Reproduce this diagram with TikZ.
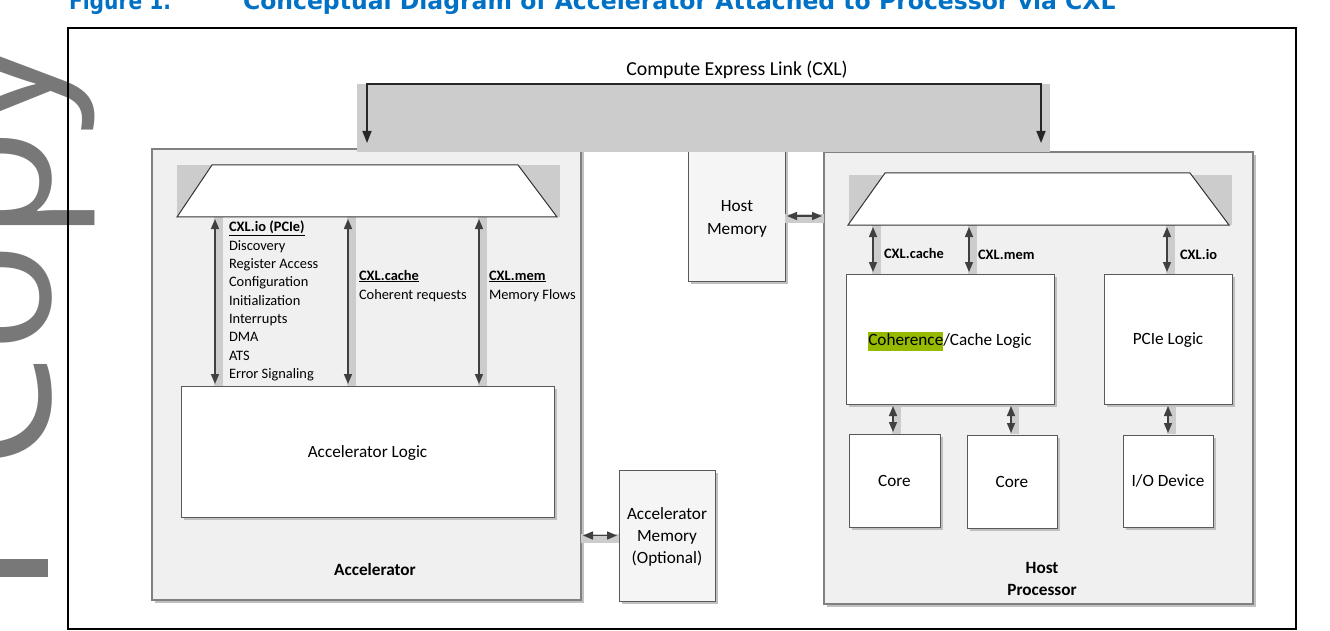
\documentclass[tikz,border=0pt]{standalone}
\usepackage{fontspec}
\setmainfont{Carlito}
\newfontfamily\wmfamily{Open Sans}
\newfontfamily\titlefamily{DejaVu Sans}
\usetikzlibrary{arrows.meta,shadows,calc}

\definecolor{cxlblue}{RGB}{0,113,197}
\definecolor{boxgray}{RGB}{240,240,240}
\definecolor{bordergray}{RGB}{128,128,128}
\definecolor{bandgray}{RGB}{204,204,204}
\definecolor{arrowgray}{RGB}{64,64,64}
\definecolor{hlgreen}{RGB}{150,186,0}
\definecolor{wmgray}{RGB}{120,120,120}
\definecolor{shadowgray}{RGB}{192,192,192}

\newcommand\mainfs{\fontsize{17.2}{22}\selectfont}
\newcommand\smallfs{\fontsize{14.4}{18.3}\selectfont}
\newcommand\labelfs{\fontsize{19.8}{24}\selectfont}
\newcommand\titlefs{\fontsize{23.5}{28}\selectfont\titlefamily\bfseries}
\newcommand\wmfs{\fontsize{185}{200}\selectfont\wmfamily}

\begin{document}
\begin{tikzpicture}[x=1pt,y=-1pt,
  every node/.style={inner sep=0pt,outer sep=0pt},
  outerbox/.style={draw=bordergray,line width=1.2pt,fill=boxgray,anchor=north west,
    drop shadow={shadow xshift=3pt,shadow yshift=-3pt,fill=shadowgray,opacity=1}},
  whitebox/.style={draw=black!65,line width=1pt,fill=white,anchor=north west,font=\mainfs,align=center,
    text depth=0pt,
    drop shadow={shadow xshift=3pt,shadow yshift=-3pt,fill=shadowgray,opacity=1}},
  membox/.style={whitebox,fill=black!4},
  trapbg/.style={fill=bandgray,anchor=north west},
  trapline/.style={draw=black!80,line width=1pt,fill=white},
  bandv/.style={draw=bandgray,line width=9pt,transform canvas={xshift=3.5pt}},
  bandh/.style={draw=bandgray,line width=9pt,transform canvas={yshift=-2.5pt}},
  biarrow/.style={draw=arrowgray,line width=1.5pt,shorten <=2pt,shorten >=2pt,
    {Triangle[length=10pt,width=8pt]}-{Triangle[length=10pt,width=8pt]}},
  bracket/.style={draw=black!85,line width=1.5pt,
    {Triangle[length=12pt,width=9pt]}-{Triangle[length=12pt,width=9pt]}},
  lbl/.style={font=\smallfs,anchor=base west},
  blbl/.style={font=\smallfs\bfseries,anchor=base west},
  bigtxt/.style={font=\mainfs,align=center,text depth=0pt},
  bigbold/.style={font=\mainfs\bfseries,align=center,text depth=0pt}
]
\useasboundingbox (0,0) rectangle (1330,631);
\clip (0,0) rectangle (1330,631);

% watermark
\node[rotate=90,anchor=base west,font=\wmfs,text=wmgray] (wm) at (50,470) {Copy};
\fill[wmgray] (0,559) rectangle (48,577);

% title
\node[font=\titlefs,text=cxlblue,anchor=base west] (figno) at (69,10) {\scalebox{0.86}[1]{Figure 1.}};
\node[font=\titlefs,text=cxlblue,anchor=base west] (figtitle) at (243,10) {Conceptual Diagram of Accelerator Attached to Processor via CXL};

% frame
\node[draw=black,line width=2pt,anchor=north west,minimum width=1228,minimum height=601] (frame) at (68,28) {};

% outer boxes
\node[outerbox,minimum width=429,minimum height=451] (accel) at (152,149) {};
\node[outerbox,minimum width=429,minimum height=452] (host) at (824,152) {};

% trapezoid backgrounds
\node[trapbg,minimum width=383,minimum height=52] (trapLbg) at (177,165) {};
\node[trapbg,minimum width=383,minimum height=50] (trapRbg) at (849,175) {};

% x positions of connectors
\coordinate (xio) at (215,0);
\coordinate (xca) at (348,0);
\coordinate (xme) at (479,0);
\coordinate (hca) at (873,0);
\coordinate (hme) at (969,0);
\coordinate (hio) at (1167,0);
\coordinate (c1x) at (893,0);
\coordinate (c2x) at (1011,0);
\coordinate (iox) at (1168,0);
\coordinate (hmy) at (0,216);

% shadow bands of the connectors
\coordinate (alnw) at (181,386);
\draw[bandv] (trapLbg.south -| xio) -- (xio |- alnw);
\draw[bandv] (trapLbg.south -| xca) -- (xca |- alnw);
\draw[bandv] (trapLbg.south -| xme) -- (xme |- alnw);
\coordinate (cohtop) at (846,274);
\coordinate (cohbot) at (846,404);
\coordinate (coretop) at (846,434);
\draw[bandv] (trapRbg.south -| hca) -- (hca |- cohtop);
\draw[bandv] (trapRbg.south -| hme) -- (hme |- cohtop);
\draw[bandv] (trapRbg.south -| hio) -- (hio |- cohtop);
\draw[bandv] (c1x |- cohbot) -- (c1x |- coretop);
\draw[bandv] (c2x |- cohbot) -- (c2x |- coretop);
\draw[bandv] (iox |- cohbot) -- (iox |- coretop);

% trapezoids
\draw[trapline] (trapLbg.south west) -- ([xshift=35pt]trapLbg.north west)
  -- ([xshift=-42pt]trapLbg.north east) -- ([xshift=-3pt]trapLbg.south east) -- cycle;
\draw[trapline] ([xshift=-1pt]trapRbg.south west) -- ([xshift=36pt,yshift=2pt]trapRbg.north west)
  -- ([xshift=-42pt,yshift=2pt]trapRbg.north east) -- ([xshift=-3pt]trapRbg.south east) -- cycle;

% inner boxes
\node[whitebox,minimum width=373,minimum height=131] (alogic) at (181,386) {Accelerator Logic};
\node[whitebox,minimum width=208,minimum height=130] (coh) at (846,274)
  {\setlength{\fboxsep}{0pt}\colorbox{hlgreen}{\rule[-5.5pt]{0pt}{19pt}Coherence}/Cache Logic};
\node[whitebox,minimum width=128,minimum height=130] (pcie) at (1104,274) {PCIe Logic};
\node[whitebox,minimum width=91,minimum height=93] (core1) at (849,434) {Core};
\node[whitebox,minimum width=90,minimum height=93] (core2) at (967,435) {Core};
\node[whitebox,minimum width=90,minimum height=92] (iodev) at (1123,435) {I/O Device};

% memory boxes
\node[membox,minimum width=97,minimum height=151] (hostmem) at (688,130) {};
\node[bigtxt] (hostmemtxt) at (737,217.5) {Host\\[1pt]Memory};
\node[membox,minimum width=96,minimum height=131] (accmem) at (619,470) {Accelerator\\Memory\\(Optional)};

% horizontal bands and arrows
\draw[bandh] (hostmem.east |- hmy) -- (host.west |- hmy);
\draw[bandh] (accel.east |- accmem.west) -- (accmem.west);
\draw[biarrow] (hostmem.east |- hmy) -- (host.west |- hmy);
\draw[biarrow] (accel.east |- accmem.west) -- (accmem.west);

% vertical arrows
\draw[biarrow] (trapLbg.south -| xio) -- (alogic.north -| xio);
\draw[biarrow] (trapLbg.south -| xca) -- (alogic.north -| xca);
\draw[biarrow] (trapLbg.south -| xme) -- (alogic.north -| xme);
\draw[biarrow] (trapRbg.south -| hca) -- (coh.north -| hca);
\draw[biarrow] (trapRbg.south -| hme) -- (coh.north -| hme);
\draw[biarrow] (trapRbg.south -| hio) -- (pcie.north -| hio);
\draw[biarrow] (coh.south -| c1x) -- (core1.north -| c1x);
\draw[biarrow] (coh.south -| c2x) -- (core2.north -| c2x);
\draw[biarrow] (pcie.south -| iox) -- (iodev.north -| iox);

% labels in accelerator
\node[blbl] (iohead) at (229,232) {\underline{CXL.io (PCIe)}};
\foreach \t [count=\i] in {Discovery,Register Access,Configuration,Initialization,Interrupts,DMA,ATS,Error Signaling}
  \node[lbl] (io\i) at (229,232+18.3*\i) {\t};
\node[blbl] (cahead) at (359,280) {\underline{CXL.cache}};
\node[lbl] (catxt) at (359,299) {Coherent requests};
\node[blbl] (mehead) at (489,280) {\underline{CXL.mem}};
\node[lbl] (metxt) at (489,299) {Memory Flows};
\node[bigbold] (acceltxt) at (375,569) {Accelerator};

% labels in host
\node[blbl] (hcatxt) at (884,258) {CXL.cache};
\node[blbl] (hmetxt) at (978,259) {CXL.mem};
\node[blbl] (hiotxt) at (1180,259) {CXL.io};
\node[bigbold] (hosttxt) at (1042,579) {Host\\Processor};

% CXL bar
\node[fill=bandgray,anchor=north west,minimum width=693,minimum height=68] (cxlbar) at (357,84) {};
\draw[bracket] ([xshift=10pt,yshift=9pt]cxlbar.south west) |- ([xshift=-9pt]cxlbar.north east)
  -- ([xshift=-9pt,yshift=9pt]cxlbar.south east);
\node[font=\labelfs] (cxltxt) at (737,70) {Compute Express Link (CXL)};
\end{tikzpicture}
\end{document}
